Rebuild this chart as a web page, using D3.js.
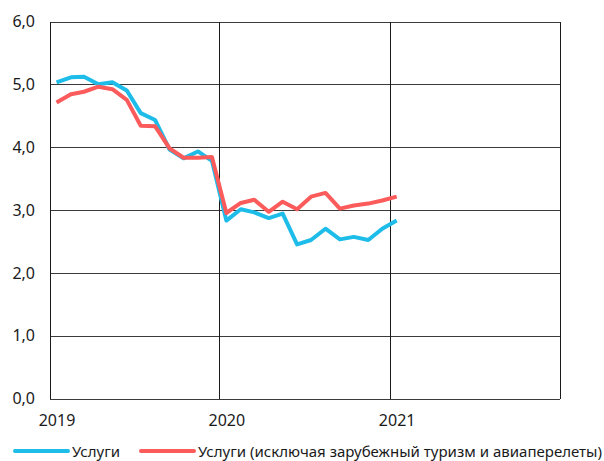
<!DOCTYPE html>
<html lang="ru">
    <head>
        <meta charset="utf-8"/>
        <script src="https://d3js.org/d3.v7.min.js"></script>
        <style>
            body { margin: 0; background: #fff; }
            text { font-family: "Noto Sans", "Open Sans", sans-serif; fill: #1a1a1a; }
        </style>
    </head>
    <body>
        <div id="chart"></div>
    </body>
    <script>
        // monthly values, Jan 2019 .. Jan 2021
        var months = d3.range(25).map(function (i) { return new Date(2019, i, 15); });
        var services = [5.04, 5.12, 5.13, 5.01, 5.04, 4.91, 4.55, 4.44, 3.97, 3.83, 3.94, 3.79,
                        2.84, 3.02, 2.97, 2.88, 2.95, 2.46, 2.53, 2.71, 2.54, 2.58, 2.53, 2.71, 2.84];
        var servicesExTravel = [4.72, 4.85, 4.89, 4.97, 4.93, 4.76, 4.35, 4.34, 3.99, 3.84, 3.84, 3.85,
                        2.96, 3.12, 3.17, 2.98, 3.14, 3.02, 3.22, 3.28, 3.03, 3.08, 3.11, 3.16, 3.22];
        var yearTicks = [2019, 2020, 2021];
        var yTicks = [0, 1, 2, 3, 4, 5, 6];
        var seriesNames = ["Услуги", "Услуги (исключая зарубежный туризм и авиаперелеты)"];
        var colors = ["#1dbce9", "#fb5b5b"];

        var margin = {top: 22, right: 44, bottom: 62, left: 50};
        var width = 604 - margin.left - margin.right;
        var height = 461 - margin.top - margin.bottom;

        var svg = d3.select("#chart")
            .append("svg")
                .attr("width", 604)
                .attr("height", 461);
        var g = svg.append("g")
                .attr("transform", "translate(" + margin.left + "," + margin.top + ")");

        var x = d3.scaleTime()
            .domain([new Date(2019, 0, 1), new Date(2022, 0, 1)])
            .range([0, width]);

        var y = d3.scaleLinear()
            .domain([0, 6])
            .range([height, 0]);

        // horizontal grid
        g.append("g")
            .selectAll("line")
            .data(yTicks)
            .enter()
            .append("line")
                .attr("x1", 0)
                .attr("x2", width)
                .attr("y1", function (d) { return y(d); })
                .attr("y2", function (d) { return y(d); })
                .attr("stroke", "#3a3a3a")
                .attr("shape-rendering", "crispEdges");

        // vertical grid at years
        g.append("g")
            .selectAll("line")
            .data([2019, 2020, 2021, 2022])
            .enter()
            .append("line")
                .attr("x1", function (d) { return x(new Date(d, 0, 1)); })
                .attr("x2", function (d) { return x(new Date(d, 0, 1)); })
                .attr("y1", 0)
                .attr("y2", height)
                .attr("stroke", "#1a1a1a")
                .attr("shape-rendering", "crispEdges");

        // y axis labels
        var yAxis = g.append("g")
            .call(d3.axisLeft(y).tickValues(yTicks).tickSize(0).tickPadding(15)
                .tickFormat(function (d) { return d3.format(".1f")(d).replace(".", ","); }));
        yAxis.select(".domain").remove();
        yAxis.selectAll("text")
            .style("font-size", "16px")
            .attr("dy", "0.3em");

        // x axis labels, centred on mid-January
        var xAxis = g.append("g")
            .attr("transform", "translate(0," + height + ")")
            .call(d3.axisBottom(x)
                .tickValues(yearTicks.map(function (d) { return new Date(d, 0, 15); }))
                .tickSize(0).tickPadding(16)
                .tickFormat(d3.timeFormat("%Y")));
        xAxis.select(".domain").remove();
        xAxis.selectAll("text")
            .style("font-size", "16px");

        var line = d3.line()
            .x(function (d, i) { return x(months[i]); })
            .y(function (d) { return y(d); });

        [services, servicesExTravel].forEach(function (s, k) {
            g.append("path")
                .datum(s)
                .attr("fill", "none")
                .attr("stroke", colors[k])
                .attr("stroke-width", 4)
                .attr("stroke-linejoin", "round")
                .attr("d", line);
        });

        // legend
        var legendX = [15, 141];
        var legendLen = [48, 404];
        var legend = svg.append("g");
        seriesNames.forEach(function (name, k) {
            legend.append("line")
                .attr("x1", legendX[k])
                .attr("x2", legendX[k] + 53)
                .attr("y1", 451)
                .attr("y2", 451)
                .attr("stroke", colors[k])
                .attr("stroke-width", 4)
                .attr("stroke-linecap", "round");
            legend.append("text")
                .attr("x", legendX[k] + 57)
                .attr("y", 457)
                .attr("textLength", legendLen[k])
                .attr("lengthAdjust", "spacingAndGlyphs")
                .style("font-size", "15px")
                .text(name);
        });
    </script>
</html>
